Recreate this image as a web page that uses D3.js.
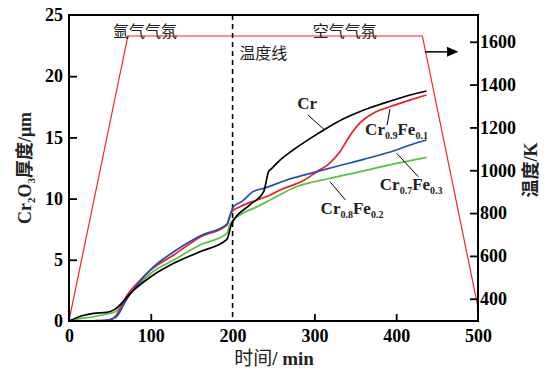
<!DOCTYPE html>
<html><head><meta charset="utf-8">
<script src="https://cdn.jsdelivr.net/npm/d3@7"></script>
<style>body{margin:0;background:#fff}</style>
</head><body><svg id="c" width="560" height="373"></svg>
<script>
// ---- data ----
const timeTicks=[0,100,200,300,400,500];
const thickTicks=[0,5,10,15,20,25];
const tempTicks=[400,600,800,1000,1200,1400,1600];

const crT=[0,17,30,46,56,79,100,128,160,193,199,221,238,244,248,258,274,295,315,335,356,368,392,417,437];
const crV=[0,0.45,0.63,0.7,0.95,2.53,3.62,4.71,5.66,6.67,7.98,9.48,10.57,12.2,12.47,13.15,13.97,14.92,15.75,16.5,17.12,17.42,17.95,18.46,18.79];

const redT=[0,30,50,58,70,85,100,128,160,193,199,209,230,246,258,286,303,317,331,343,356,372,392,417,437];
const redV=[0,0.02,0.1,0.49,2.0,3.2,4.17,5.39,6.85,7.84,8.93,9.34,9.89,10.29,10.7,11.45,12.2,12.8,13.8,15.1,16.2,16.97,17.5,18.05,18.46];

const blueT=[0,30,46,58,70,85,100,128,160,193,195,201,211,225,238,270,303,331,360,400,417,437];
const blueV=[0,0.02,0.05,0.35,1.72,3.08,4.22,5.66,6.95,7.92,8.25,9.34,9.75,10.57,10.84,11.6,12.2,12.7,13.2,13.97,14.38,14.79];

const greenT=[0,13,30,50,58,70,85,100,128,160,193,197,209,230,246,278,319,356,392,437];
const greenV=[0,0.2,0.35,0.63,0.8,1.85,2.94,3.9,4.98,6.21,7.16,7.98,8.66,9.34,9.89,10.97,11.66,12.2,12.75,13.37];

const tempT=[0,72,432,500];
const tempK=[298,1627,1627,360];

const seriesNames=["Cr","Cr0.9Fe0.1","Cr0.7Fe0.3","Cr0.8Fe0.2"];
const seriesColors=["#000000","#ee1c24","#1f4eb4","#5cbf3a"];

// ---- chart ----
const svg=d3.select("#c");
const L=69,R=478,T=15,B=321;
const x=d3.scaleLinear().domain([0,500]).range([L,R]);
const y=d3.scaleLinear().domain([0,25]).range([B,T]);
const yT=d3.scaleLinear().domain([296,1725]).range([B,T]);
const serif="'Liberation Serif','Times New Roman','Noto Sans CJK SC',serif";
const cjk="'Noto Sans CJK SC',sans-serif";

const series=[[crT,crV],[redT,redV],[blueT,blueV],[greenT,greenV]];
const line=d3.line().x(d=>x(d[0])).y(d=>y(d[1])).curve(d3.curveMonotoneX);

// temperature line
svg.append("path")
  .attr("d",d3.line().x(d=>x(d[0])).y(d=>yT(d[1]))(tempT.map((t,i)=>[t,tempK[i]])))
  .attr("fill","none").attr("stroke","#ff2020").attr("stroke-width",1.2);

// dashed line at 200
svg.append("line").attr("x1",x(200)).attr("x2",x(200)).attr("y1",T).attr("y2",B)
  .attr("stroke","#000").attr("stroke-width",1.6).attr("stroke-dasharray","5,4");

// series (draw order: green, red, blue, black)
[3,1,2,0].forEach(i=>{
  const [ts,vs]=series[i];
  svg.append("path").attr("d",line(ts.map((t,j)=>[t,vs[j]])))
    .attr("fill","none").attr("stroke",seriesColors[i]).attr("stroke-width",1.7)
    .attr("stroke-linejoin","round");
});

// axes
function styleAxis(g){
  g.select(".domain").remove();
  g.selectAll(".tick line").attr("stroke","#000").attr("stroke-width",1.8);
  g.selectAll("text").attr("font-family",serif).attr("font-weight","bold").attr("font-size",18).attr("fill","#000");
}
const gx=svg.append("g").attr("transform",`translate(0,${B})`)
  .call(d3.axisBottom(x).tickValues(timeTicks).tickSizeInner(-7).tickSizeOuter(0).tickPadding(8).tickFormat(d3.format("d")));
styleAxis(gx);
gx.selectAll(".tick").filter(d=>d===0||d===500||d===200).select("line").remove();

const gy=svg.append("g").attr("transform",`translate(${L},0)`)
  .call(d3.axisLeft(y).tickValues(thickTicks).tickSizeInner(-8).tickSizeOuter(0).tickPadding(6).tickFormat(d3.format("d")));
styleAxis(gy);
gy.selectAll(".tick").filter(d=>d===0||d===25).select("line").remove();

const gr=svg.append("g").attr("transform",`translate(${R},0)`)
  .call(d3.axisRight(yT).tickValues(tempTicks).tickSizeInner(-8).tickSizeOuter(0).tickPadding(2).tickFormat(d3.format("d")));
styleAxis(gr);

// frame
svg.append("rect").attr("x",L).attr("y",T).attr("width",R-L).attr("height",B-T)
  .attr("fill","none").attr("stroke","#000").attr("stroke-width",2);

// atmosphere labels
function cn(txt,t,v,anchor){
  svg.append("text").attr("x",x(t)).attr("y",y(v)).attr("text-anchor",anchor||"middle")
    .attr("font-family",cjk).attr("font-size",16).attr("fill","#222").text(txt);
}
cn("氩气气氛",93,23.2);
cn("空气气氛",337,23.2);
cn("温度线",208,21.4,"start");

// arrow
const ay=yT(1553);
svg.append("line").attr("x1",x(435)).attr("x2",x(465)).attr("y1",ay).attr("y2",ay).attr("stroke","#000").attr("stroke-width",1.5);
svg.append("path").attr("d",`M${x(462)},${ay-5} L${x(476)},${ay} L${x(462)},${ay+5} Z`).attr("fill","#000");

// series labels
function lab(base,s1,mid,s2,t,v){
  const tx=svg.append("text").attr("x",x(t)).attr("y",y(v)).attr("font-family",serif)
    .attr("font-weight","bold").attr("font-size",17).attr("fill","#222");
  tx.append("tspan").text(base);
  if(s1){
    tx.append("tspan").attr("font-size",10).attr("dy",4).text(s1);
    tx.append("tspan").attr("dy",-4).text(mid);
    tx.append("tspan").attr("font-size",10).attr("dy",4).text(s2);
  }
}
function leader(t1,v1,t2,v2){
  svg.append("line").attr("x1",x(t1)).attr("y1",y(v1)).attr("x2",x(t2)).attr("y2",y(v2))
    .attr("stroke","#000").attr("stroke-width",1);
}
lab("Cr",null,null,null,279,17.3);
leader(292,16.83,311.7,15.66);
lab("Cr","0.9","Fe","0.1",362,15.2);
leader(392.4,17.32,388.8,16.0);
lab("Cr","0.7","Fe","0.3",380,10.7);
leader(400.6,13.7,427,11.79);
lab("Cr","0.8","Fe","0.2",307.6,8.72);
leader(319,11.38,338,9.89);

// axis titles
const xt=svg.append("text").attr("x",274).attr("y",365).attr("text-anchor","middle")
  .attr("font-size",19).attr("fill","#222");
xt.append("tspan").attr("font-family",cjk).text("时间");
xt.append("tspan").attr("font-family",serif).attr("font-weight","bold").text("/ min");

const yl=svg.append("text").attr("transform","translate(31,168) rotate(-90)").attr("text-anchor","middle")
  .attr("font-size",18).attr("font-weight","bold").attr("fill","#222").attr("font-family",serif);
yl.append("tspan").text("Cr");
yl.append("tspan").attr("font-size",11).attr("dy",4).text("2");
yl.append("tspan").attr("dy",-4).text("O");
yl.append("tspan").attr("font-size",11).attr("dy",4).text("3");
yl.append("tspan").attr("dy",-4).attr("font-family",cjk).text("厚度");
yl.append("tspan").text("/μm");

const yr=svg.append("text").attr("transform","translate(537,170) rotate(-90)").attr("text-anchor","middle")
  .attr("font-size",18).attr("font-weight","bold").attr("fill","#222").attr("font-family",serif);
yr.append("tspan").attr("font-family",cjk).text("温度");
yr.append("tspan").text("/K");
</script></body></html>
